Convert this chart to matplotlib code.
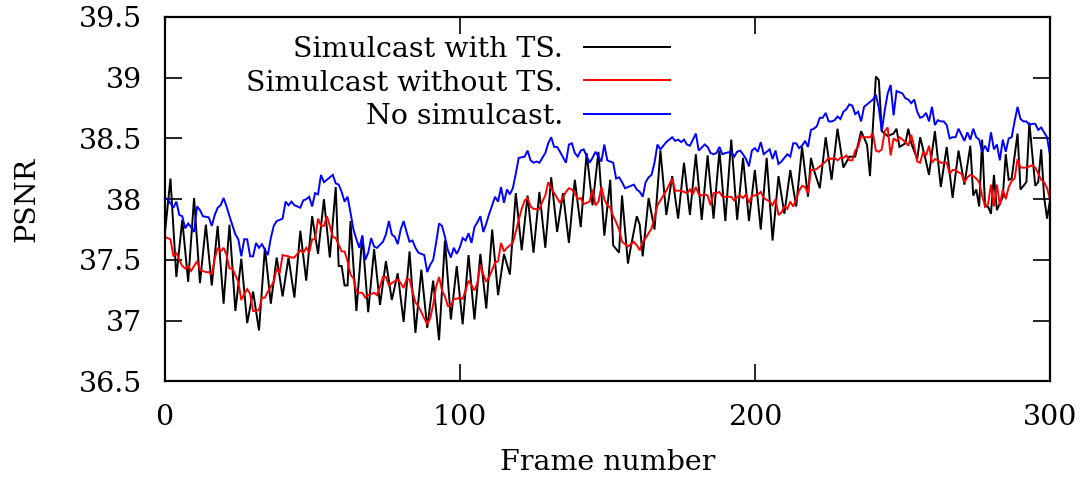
import matplotlib.pyplot as plt

# ── DATA ─────────────────────────────────────────────────────────────
# Simulcast with TS. (black) – vertices of the zig-zag
ts_frames = [0, 2, 4, 6, 8, 10, 12, 14, 16, 18, 20, 22, 24, 26, 28, 30, 32, 34, 36, 38,
             40, 42, 44, 46, 48, 50, 52, 54, 56, 58, 59, 60, 61, 62, 63, 65, 67, 69, 71, 73,
             75, 77, 79, 81, 83, 85, 87, 89, 91, 93, 95, 97, 99, 101, 103, 105, 107, 109, 111, 113,
             115, 117, 119, 121, 123, 125, 127, 129, 131, 133, 135, 137, 139, 141, 143, 145, 147, 149, 151, 152,
             154, 155, 157, 158, 160, 161, 162, 164, 166, 168, 170, 172, 174, 176, 178, 180, 182, 184, 186, 188,
             190, 192, 194, 196, 198, 200, 202, 204, 206, 208, 210, 212, 214, 216, 218, 219, 220, 222, 224, 226,
             228, 230, 232, 234, 236, 238, 239, 241, 242, 243, 245, 247, 248, 249, 251, 252, 253, 255, 256, 258,
             259, 261, 263, 265, 267, 269, 271, 273, 274, 275, 276, 277, 278, 279, 280, 281, 282, 284, 285, 286,
             287, 289, 290, 292, 293, 295, 296, 297, 298, 299, 300]
ts_psnr = [37.69, 38.17, 37.36, 37.83, 37.32, 38.01, 37.31, 37.79, 37.29, 37.78, 37.14, 37.79, 37.08, 37.51, 36.98, 37.24, 36.92, 37.60, 37.14, 37.52,
           37.20, 37.52, 37.19, 37.74, 37.33, 37.86, 37.55, 38.00, 37.52, 38.10, 37.45, 37.45, 37.29, 37.29, 37.82, 37.08, 37.70, 37.07, 37.59, 37.13,
           37.49, 37.17, 37.39, 36.99, 37.57, 36.90, 37.42, 36.94, 37.33, 36.84, 37.66, 37.01, 37.45, 36.97, 37.54, 37.01, 37.55, 37.10, 37.75, 37.21,
           37.55, 37.38, 38.05, 37.58, 38.03, 37.56, 38.06, 37.60, 38.18, 37.73, 38.05, 37.64, 38.16, 37.77, 38.38, 37.95, 38.39, 37.70, 38.16, 37.62,
           37.56, 38.03, 37.47, 37.61, 37.86, 37.79, 37.53, 38.01, 37.75, 38.40, 37.87, 38.19, 37.84, 38.30, 37.87, 38.37, 37.83, 38.36, 37.84, 38.40,
           37.82, 38.49, 37.83, 38.34, 37.82, 38.24, 37.75, 38.34, 37.66, 38.19, 37.88, 38.24, 37.94, 38.43, 38.02, 38.34, 38.24, 38.09, 38.51, 38.16,
           38.58, 38.26, 38.35, 38.35, 38.56, 38.45, 38.19, 39.01, 38.98, 38.56, 38.52, 38.54, 38.58, 38.43, 38.46, 38.58, 38.46, 38.33, 38.51, 38.31,
           38.20, 38.56, 38.10, 38.43, 38.01, 38.40, 38.12, 38.44, 38.03, 38.08, 37.94, 38.49, 37.94, 37.94, 37.88, 38.20, 37.91, 38.02, 38.37, 38.16,
           38.17, 38.54, 38.08, 38.14, 38.63, 38.11, 38.14, 38.41, 38.02, 37.84, 37.99]

# Simulcast without TS. (red)
nots_frames = [0, 2, 3, 4, 5, 6, 7, 8, 9, 10, 11, 12, 14, 15, 16, 17, 18, 19, 20, 21,
               22, 23, 25, 26, 27, 28, 29, 30, 31, 32, 33, 34, 35, 37, 38, 39, 40, 42, 43, 44,
               46, 47, 48, 49, 50, 51, 52, 53, 54, 55, 56, 57, 58, 60, 61, 62, 63, 64, 65, 66,
               67, 68, 69, 71, 72, 73, 74, 75, 76, 77, 79, 80, 81, 82, 83, 84, 85, 86, 87, 88,
               89, 90, 91, 92, 93, 94, 95, 96, 97, 98, 99, 100, 101, 102, 103, 105, 106, 107, 108, 109,
               110, 112, 113, 114, 115, 116, 118, 119, 120, 121, 122, 123, 124, 125, 127, 128, 129, 130, 131, 132,
               133, 134, 136, 137, 138, 139, 140, 141, 142, 144, 145, 146, 147, 148, 149, 150, 151, 152, 153, 154,
               155, 156, 157, 158, 159, 160, 161, 162, 163, 164, 165, 166, 167, 168, 170, 171, 172, 173, 174, 175,
               176, 177, 178, 179, 180, 181, 182, 183, 184, 185, 186, 187, 188, 189, 190, 192, 193, 194, 195, 196,
               197, 198, 199, 200, 201, 202, 203, 205, 206, 207, 208, 209, 210, 211, 212, 213, 214, 215, 216, 217,
               218, 219, 220, 221, 222, 223, 224, 225, 226, 227, 228, 229, 230, 231, 232, 233, 234, 235, 236, 237,
               239, 240, 241, 242, 243, 244, 245, 246, 247, 248, 249, 250, 251, 252, 253, 254, 255, 256, 257, 258,
               259, 260, 261, 262, 263, 264, 265, 266, 267, 268, 269, 270, 271, 272, 273, 274, 275, 276, 277, 278,
               279, 280, 281, 282, 283, 284, 285, 286, 287, 288, 289, 290, 291, 292, 293, 294, 295, 296, 297, 298,
               299, 300]
nots_psnr = [37.69, 37.67, 37.53, 37.56, 37.50, 37.45, 37.43, 37.45, 37.41, 37.45, 37.49, 37.42, 37.40, 37.40, 37.38, 37.51, 37.60, 37.57, 37.60, 37.54,
             37.43, 37.43, 37.32, 37.17, 37.22, 37.26, 37.22, 37.08, 37.08, 37.09, 37.19, 37.19, 37.24, 37.32, 37.43, 37.39, 37.54, 37.53, 37.52, 37.52,
             37.58, 37.56, 37.60, 37.56, 37.67, 37.67, 37.84, 37.78, 37.78, 37.86, 37.78, 37.69, 37.68, 37.57, 37.57, 37.49, 37.38, 37.35, 37.24, 37.23,
             37.23, 37.19, 37.21, 37.23, 37.21, 37.28, 37.36, 37.36, 37.29, 37.31, 37.34, 37.31, 37.27, 37.34, 37.34, 37.24, 37.15, 37.12, 37.07, 37.02,
             36.97, 37.02, 37.13, 37.28, 37.36, 37.25, 37.20, 37.12, 37.12, 37.18, 37.18, 37.19, 37.18, 37.25, 37.33, 37.25, 37.31, 37.46, 37.38, 37.32,
             37.36, 37.48, 37.49, 37.64, 37.57, 37.60, 37.64, 37.73, 37.83, 37.92, 37.99, 38.01, 37.94, 37.92, 37.92, 37.98, 38.03, 38.14, 38.09, 38.05,
             38.01, 37.97, 38.06, 38.09, 38.08, 38.05, 38.00, 38.01, 37.96, 37.98, 38.08, 37.95, 37.98, 38.10, 38.00, 37.95, 37.93, 37.86, 37.81, 37.75,
             37.65, 37.63, 37.61, 37.63, 37.65, 37.62, 37.58, 37.65, 37.68, 37.72, 37.76, 37.85, 37.95, 37.99, 38.07, 38.12, 38.17, 38.07, 38.07, 38.07,
             38.06, 38.05, 38.08, 38.04, 38.10, 38.04, 38.03, 38.04, 38.03, 37.95, 38.05, 38.05, 38.06, 38.02, 38.02, 38.02, 37.99, 38.02, 38.03, 38.01,
             38.04, 37.97, 38.03, 38.03, 38.04, 38.06, 38.01, 37.98, 37.95, 38.00, 37.87, 37.89, 37.94, 37.92, 37.98, 37.94, 38.00, 38.07, 38.11, 38.10,
             38.05, 38.24, 38.24, 38.25, 38.27, 38.29, 38.31, 38.34, 38.33, 38.34, 38.32, 38.34, 38.34, 38.36, 38.32, 38.32, 38.40, 38.43, 38.52, 38.51,
             38.51, 38.54, 38.40, 38.39, 38.41, 38.56, 38.59, 38.36, 38.50, 38.48, 38.51, 38.49, 38.47, 38.44, 38.53, 38.43, 38.31, 38.30, 38.39, 38.36,
             38.44, 38.30, 38.33, 38.32, 38.30, 38.30, 38.30, 38.21, 38.24, 38.24, 38.22, 38.21, 38.14, 38.18, 38.20, 38.19, 38.17, 38.14, 38.03, 37.94,
             37.96, 38.12, 37.94, 38.12, 37.95, 38.08, 38.00, 38.10, 38.15, 38.17, 38.33, 38.26, 38.26, 38.26, 38.27, 38.28, 38.26, 38.21, 38.16, 38.14,
             38.09, 38.00]

# No simulcast. (blue)
nosim_frames = [0, 1, 3, 4, 5, 6, 7, 8, 9, 10, 11, 12, 13, 15, 16, 17, 18, 19, 20, 21,
                22, 24, 25, 26, 27, 28, 29, 30, 31, 32, 33, 35, 36, 37, 38, 40, 41, 42, 43, 44,
                45, 46, 47, 48, 49, 50, 51, 52, 53, 54, 55, 57, 58, 59, 60, 61, 62, 63, 64, 65,
                66, 67, 68, 69, 70, 71, 72, 74, 75, 76, 77, 78, 79, 80, 81, 82, 83, 84, 85, 86,
                88, 89, 90, 91, 92, 93, 94, 95, 96, 97, 98, 99, 100, 101, 102, 103, 104, 105, 106, 107,
                108, 109, 110, 111, 112, 113, 114, 115, 116, 117, 118, 119, 120, 122, 123, 124, 125, 126, 127, 129,
                130, 131, 132, 133, 134, 136, 137, 138, 139, 140, 141, 142, 144, 145, 146, 147, 148, 149, 150, 151,
                152, 153, 154, 155, 156, 157, 158, 159, 160, 161, 162, 163, 164, 165, 166, 167, 168, 170, 171, 172,
                173, 174, 175, 176, 177, 178, 179, 180, 181, 183, 184, 185, 186, 187, 188, 189, 190, 192, 193, 194,
                195, 196, 197, 198, 199, 200, 201, 202, 203, 205, 206, 207, 208, 209, 211, 212, 213, 214, 215, 216,
                217, 218, 219, 220, 221, 222, 223, 224, 225, 226, 227, 228, 229, 230, 231, 232, 233, 234, 235, 236,
                237, 238, 239, 240, 241, 242, 243, 244, 245, 246, 247, 248, 250, 251, 252, 253, 254, 255, 256, 257,
                258, 259, 260, 261, 262, 263, 264, 265, 266, 267, 268, 269, 270, 271, 272, 273, 274, 275, 276, 277,
                278, 279, 280, 281, 282, 283, 284, 285, 286, 287, 288, 289, 290, 291, 292, 293, 294, 295, 296, 297,
                298, 299, 300]
nosim_psnr = [38.01, 38.00, 37.93, 37.98, 37.87, 37.86, 37.76, 37.80, 37.77, 37.73, 37.94, 37.91, 37.86, 37.85, 37.78, 37.87, 37.93, 37.95, 38.01, 37.94,
              37.86, 37.71, 37.67, 37.53, 37.67, 37.67, 37.53, 37.53, 37.64, 37.60, 37.63, 37.54, 37.68, 37.78, 37.82, 37.84, 37.98, 37.95, 37.98, 37.95,
              37.94, 37.93, 37.99, 38.00, 38.02, 37.94, 38.05, 38.04, 38.20, 38.14, 38.16, 38.20, 38.13, 38.12, 38.06, 37.98, 38.02, 37.89, 37.75, 37.67,
              37.60, 37.70, 37.50, 37.56, 37.68, 37.61, 37.60, 37.65, 37.71, 37.82, 37.71, 37.69, 37.63, 37.75, 37.82, 37.73, 37.65, 37.66, 37.60, 37.56,
              37.54, 37.40, 37.46, 37.50, 37.64, 37.80, 37.78, 37.69, 37.58, 37.52, 37.60, 37.55, 37.60, 37.68, 37.66, 37.72, 37.64, 37.77, 37.81, 37.86,
              37.73, 37.80, 37.88, 37.95, 38.02, 37.98, 38.10, 37.97, 38.08, 38.04, 38.09, 38.21, 38.34, 38.35, 38.40, 38.32, 38.30, 38.31, 38.30, 38.38,
              38.46, 38.51, 38.43, 38.43, 38.39, 38.30, 38.45, 38.46, 38.38, 38.35, 38.40, 38.41, 38.30, 38.34, 38.39, 38.35, 38.31, 38.45, 38.32, 38.31,
              38.30, 38.17, 38.18, 38.14, 38.09, 38.10, 38.11, 38.12, 38.08, 38.06, 38.02, 38.14, 38.18, 38.20, 38.30, 38.45, 38.41, 38.47, 38.49, 38.51,
              38.48, 38.49, 38.47, 38.49, 38.45, 38.44, 38.49, 38.54, 38.40, 38.45, 38.43, 38.38, 38.37, 38.38, 38.43, 38.37, 38.38, 38.39, 38.35, 38.39,
              38.40, 38.37, 38.33, 38.27, 38.40, 38.42, 38.39, 38.47, 38.37, 38.41, 38.33, 38.40, 38.29, 38.31, 38.37, 38.35, 38.46, 38.46, 38.42, 38.44,
              38.48, 38.43, 38.57, 38.58, 38.60, 38.67, 38.67, 38.71, 38.64, 38.64, 38.65, 38.68, 38.66, 38.72, 38.74, 38.78, 38.77, 38.70, 38.72, 38.64,
              38.76, 38.78, 38.80, 38.82, 38.86, 38.75, 38.56, 38.73, 38.87, 38.94, 38.69, 38.89, 38.87, 38.83, 38.82, 38.79, 38.82, 38.72, 38.67, 38.68,
              38.71, 38.64, 38.76, 38.61, 38.65, 38.64, 38.64, 38.61, 38.50, 38.51, 38.51, 38.58, 38.53, 38.48, 38.55, 38.49, 38.58, 38.51, 38.49, 38.39,
              38.44, 38.39, 38.55, 38.41, 38.45, 38.32, 38.49, 38.39, 38.50, 38.51, 38.64, 38.76, 38.66, 38.64, 38.64, 38.61, 38.62, 38.62, 38.57, 38.59,
              38.55, 38.51, 38.36]

series = [
    ("Simulcast with TS.", ts_frames, ts_psnr, "#000000"),
    ("Simulcast without TS.", nots_frames, nots_psnr, "#ff0000"),
    ("No simulcast.", nosim_frames, nosim_psnr, "#0000ff"),
]

x_ticks = [0, 100, 200, 300]
y_ticks = [36.5, 37, 37.5, 38, 38.5, 39, 39.5]
y_tick_labels = ["36.5", "37", "37.5", "38", "38.5", "39", "39.5"]

# ── FIGURE ───────────────────────────────────────────────────────────
FS = 20.5
plt.rcParams['font.family'] = ['DejaVu Serif']
plt.rcParams['font.size'] = FS

fig = plt.figure(figsize=(10.89, 4.79), dpi=100)
ax = fig.add_axes([0.1511, 0.2036, 0.8131, 0.7611])

for label, fr, val, col in series:
    ax.plot(fr, val, color=col, lw=1.4, solid_joinstyle='miter')

ax.set_xlim(0, 300)
ax.set_ylim(36.5, 39.5)
ax.set_xticks(x_ticks)
ax.set_yticks(y_ticks)
ax.set_yticklabels(y_tick_labels)
ax.tick_params(direction='in', length=12, width=1.2, top=True, right=True,
               labelsize=FS)
ax.tick_params(axis='x', pad=16)
ax.tick_params(axis='y', pad=16)
for s in ax.spines.values():
    s.set_linewidth(1.6)

ax.set_xlabel("Frame number", fontsize=FS, labelpad=13)
ax.set_ylabel("PSNR", fontsize=FS, labelpad=28)

# gnuplot-style key: text right-aligned, line sample on the right
key_base = [0.889, 0.7976, 0.7062]
for (label, fr, val, col), kb in zip(series, key_base):
    ax.text(0.450, kb, label, transform=ax.transAxes, ha='right', va='baseline',
            fontsize=FS)
    ax.plot([0.4738, 0.571], [kb + 0.0286, kb + 0.0286], color=col, lw=1.4,
            transform=ax.transAxes, clip_on=False)

fig.savefig("out.png", dpi=100)
